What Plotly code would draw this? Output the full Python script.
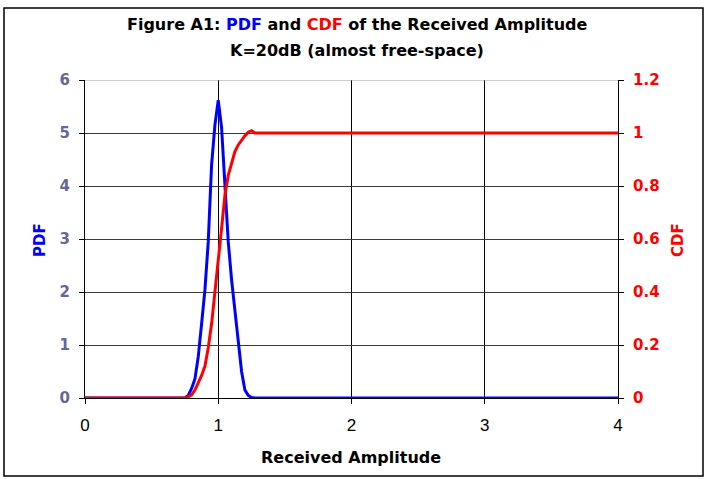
import plotly.graph_objects as go

# Received amplitude samples (flat zero / one outside the peak region)
amplitude = [0.0, 0.75, 0.775, 0.8, 0.825, 0.85, 0.875, 0.9, 0.925, 0.95, 0.975,
             1.0, 1.025, 1.05, 1.075, 1.1, 1.125, 1.15, 1.175, 1.2, 1.225,
             1.25, 1.275, 4.0]
pdf_values = [0.0, 0.0, 0.05, 0.18, 0.36, 0.78, 1.40, 2.04, 2.95, 4.40, 5.15,
              5.62, 5.10, 3.95, 2.95, 2.23, 1.62, 1.00, 0.50, 0.15, 0.05,
              0.01, 0.0, 0.0]
cdf_values = [0.0, 0.0, 0.004, 0.012, 0.03, 0.055, 0.085, 0.12, 0.19, 0.28, 0.41,
              0.52, 0.64, 0.765, 0.84, 0.89, 0.93, 0.955, 0.975, 0.99, 1.003,
              1.009, 1.0, 1.0]

pdf_ticks = [0, 1, 2, 3, 4, 5, 6]
cdf_ticks = [0, 0.2, 0.4, 0.6, 0.8, 1, 1.2]
x_ticks = [0, 1, 2, 3, 4]

BOLD_FONT = "DejaVu Sans, Verdana, sans-serif"
PLAIN_FONT = "Liberation Sans, Arial, sans-serif"

fig = go.Figure()
fig.add_trace(go.Scatter(x=amplitude, y=pdf_values, mode="lines", name="PDF",
                         line=dict(color="#0000FF", width=3)))
fig.add_trace(go.Scatter(x=amplitude, y=cdf_values, mode="lines", name="CDF",
                         yaxis="y2", line=dict(color="#FF0000", width=3)))

fig.update_layout(
    width=707, height=479,
    margin=dict(l=85, r=89, t=80, b=81),
    paper_bgcolor="white", plot_bgcolor="white",
    showlegend=False,
    font=dict(family=PLAIN_FONT, color="black"),
    xaxis=dict(range=[0, 4], tickvals=x_ticks, ticks="outside", ticklen=5,
               tickcolor="black", showline=True, linecolor="black",
               showgrid=True, gridcolor="black", gridwidth=1, zeroline=False,
               ticklabelstandoff=7,
               tickfont=dict(family=PLAIN_FONT, size=17, color="black")),
    yaxis=dict(range=[0, 6], tickvals=pdf_ticks, ticks="outside", ticklen=5,
               tickcolor="black", showline=True, linecolor="black",
               showgrid=True, gridcolor="#3a3a3a", gridwidth=1, zeroline=False,
               ticklabelstandoff=6,
               tickfont=dict(family=BOLD_FONT, size=15, color="#666699",
                             weight="bold")),
    yaxis2=dict(range=[0, 1.2], tickvals=cdf_ticks, overlaying="y", side="right",
                ticks="outside", ticklen=5, tickcolor="black", showline=True,
                linecolor="black", showgrid=False, zeroline=False,
                ticklabelstandoff=6,
                tickfont=dict(family=BOLD_FONT, size=15, color="#FF0000",
                              weight="bold")),
)

# gray plot-area border on top
fig.add_shape(type="line", xref="x", yref="y", x0=0, x1=4, y0=6, y1=6,
              line=dict(color="#999999", width=1))

# outer chart frame
fig.add_shape(type="rect", xref="paper", yref="paper",
              x0=(4 - 85) / 533, x1=(703 - 85) / 533,
              y0=(398 - 476) / 318, y1=(398 - 8) / 318,
              line=dict(color="black", width=1.5))


def add_text(text, px_x, px_y, color="black", size=16, angle=0):
    # place a label at a pixel position of the 707x479 canvas
    fig.add_annotation(text=text, xref="paper", yref="paper",
                       x=(px_x - 85) / 533, y=(398 - px_y) / 318,
                       xanchor="center", yanchor="middle", textangle=angle,
                       showarrow=False,
                       font=dict(family=BOLD_FONT, size=size, weight="bold",
                                 color=color))


add_text("Figure A1: <span style='color:#0000FF'>PDF</span> and "
         "<span style='color:#FF0000'>CDF</span> of the Received Amplitude",
         357, 25)
add_text("K=20dB (almost free-space)", 357, 51)
add_text("Received Amplitude", 351, 457)
add_text("PDF", 40, 240, color="#0000FF", size=15, angle=-90)
add_text("CDF", 678, 240, color="#FF0000", size=15, angle=-90)

fig.write_html("out.html", config={"displayModeBar": False},
               post_script="document.body.style.margin = '0';")
